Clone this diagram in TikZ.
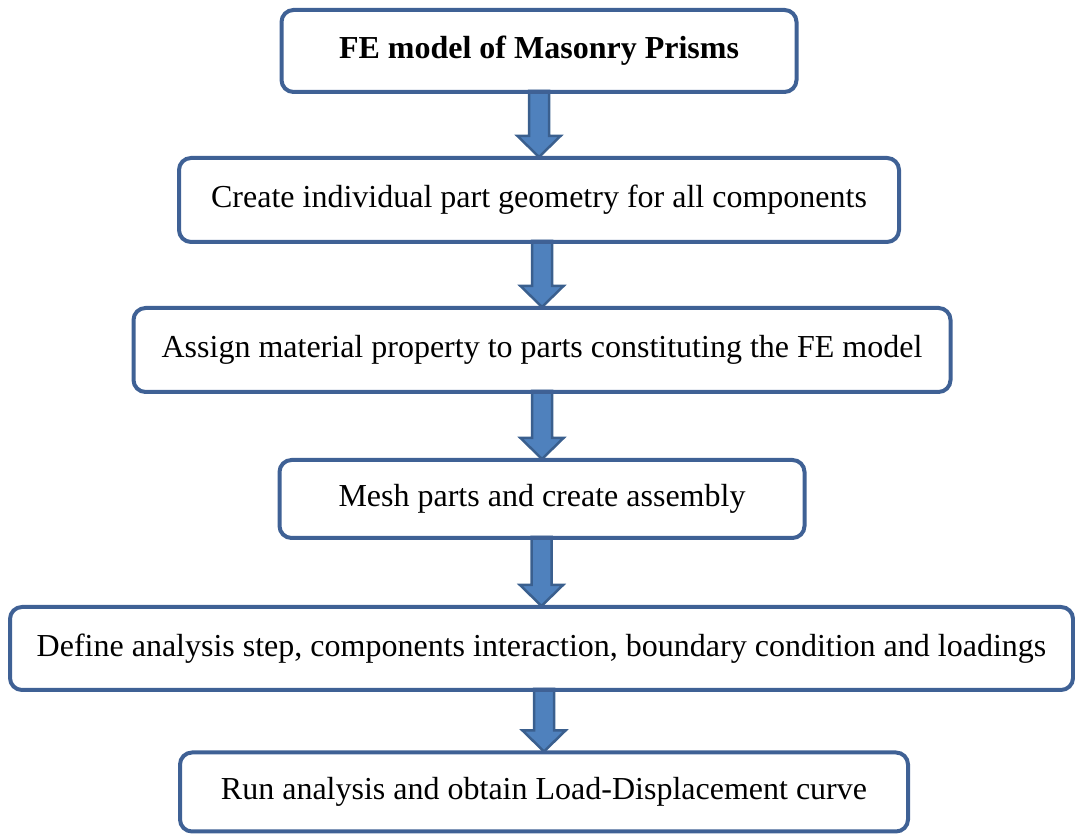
\documentclass[tikz,border=0pt]{standalone}
\usepackage{fontspec}
\setmainfont{Liberation Serif}
\usepackage{tikz}
\usetikzlibrary{calc, backgrounds}
\definecolor{boxblue}{HTML}{3F6195}
\definecolor{arrowfill}{HTML}{4F81BD}
\definecolor{arrowline}{HTML}{3A5F8E}
\tikzstyle{stepbox}=[rectangle,draw=boxblue,line width=4pt,
  rounded corners=12pt,minimum height=82pt,inner sep=0pt,
  font=\fontsize{32}{38}\selectfont,align=center]
\tikzstyle{flowarr}=[fill=arrowfill,draw=arrowline,line width=2.5pt,line join=miter]
\newcommand{\flowarrow}[2]{%
  \filldraw[flowarr] ($(#1.south -| #2.north)+(-10,3)$) -- ($(#2.north)+(-10,20)$)
    -- ($(#2.north)+(-21.5,20)$) -- ($(#2.north)+(0,-1)$)
    -- ($(#2.north)+(21.5,20)$) -- ($(#2.north)+(10,20)$)
    -- ($(#1.south -| #2.north)+(10,3)$) -- cycle;}

\begin{document}
\begin{tikzpicture}[x=1pt,y=1pt]
  \useasboundingbox (0,0) rectangle (1075,834);
  \node[stepbox,minimum width=515pt,font=\fontsize{32}{38}\selectfont\bfseries] (model) at (539,783) {FE model of Masonry Prisms};
  \node[stepbox,minimum width=720pt,minimum height=84pt] (geom) at (539,634) {Create individual part geometry for all components};
  \node[stepbox,minimum width=817pt,minimum height=84pt] (mat) at (542,484) {Assign material property to parts constituting the FE model};
  \node[stepbox,minimum width=525pt,minimum height=78pt] (mesh) at (542,335) {Mesh parts and create assembly};
  \node[stepbox,minimum width=1063pt,minimum height=83pt] (bc) at (541.5,185.5) {Define analysis step, components interaction, boundary condition and loadings};
  \node[stepbox,minimum width=728pt,minimum height=79pt] (run) at (544,42) {Run analysis and obtain Load-Displacement curve};
  % connectors behind the boxes
  \begin{scope}[on background layer]
    \flowarrow{model}{geom}
    \flowarrow{geom}{mat}
    \flowarrow{mat}{mesh}
    \flowarrow{mesh}{bc}
    \flowarrow{bc}{run}
  \end{scope}
\end{tikzpicture}
\end{document}
